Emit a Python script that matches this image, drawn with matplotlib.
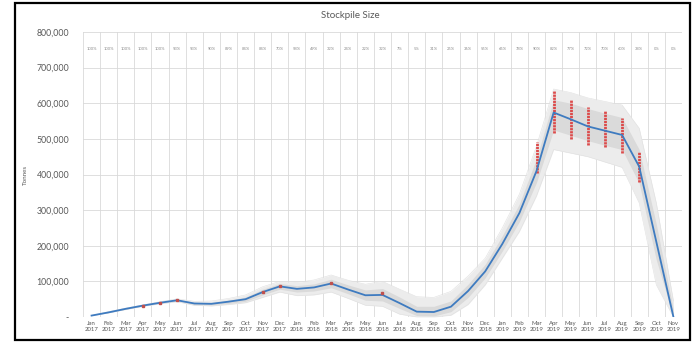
import matplotlib
matplotlib.use('Agg')
import matplotlib.pyplot as plt
from matplotlib.patches import Rectangle

plt.rcParams['font.family'] = ['Lato', 'DejaVu Sans']

months = ['Jan', 'Feb', 'Mar', 'Apr', 'May', 'Jun', 'Jul', 'Aug', 'Sep', 'Oct', 'Nov', 'Dec',
          'Jan', 'Feb', 'Mar', 'Apr', 'May', 'Jun', 'Jul', 'Aug', 'Sep', 'Oct', 'Nov', 'Dec',
          'Jan', 'Feb', 'Mar', 'Apr', 'May', 'Jun', 'Jul', 'Aug', 'Sep', 'Oct', 'Nov']
years = ['2017'] * 12 + ['2018'] * 12 + ['2019'] * 11

# share of simulations still holding stock each month
pct_labels = ['100%', '100%', '100%', '100%', '100%', '93%', '93%', '90%', '89%', '84%', '84%', '70%',
              '58%', '49%', '32%', '24%', '22%', '32%', '7%', '5%', '31%', '25%', '36%', '55%',
              '65%', '78%', '90%', '82%', '77%', '72%', '70%', '60%', '38%', '0%', '0%']

# mean stockpile (tonnes)
mean_size = [4000, 13000, 23000, 32000, 40000, 47000, 38000, 37000, 43000, 50000, 70000, 86000,
             79000, 83000, 94000, 77000, 61000, 62000, 39000, 15000, 14000, 29000, 73000, 128000,
             205000, 292000, 410000, 574000, 555000, 535000, 523000, 511000, 422000, 211000, 0]

# spread of the simulation runs (outer = all runs, inner = bulk of runs)
outer_lo = [4000, 12000, 21000, 30000, 37000, 43000, 33000, 31000, 35000, 40000, 55000, 70000,
            60000, 62000, 70000, 52000, 33000, 30000, 8000, 0, 0, 5000, 35000, 90000,
            165000, 240000, 340000, 470000, 460000, 450000, 435000, 420000, 320000, 90000, 0]
outer_hi = [4000, 15000, 25000, 34000, 43000, 51000, 44000, 45000, 52000, 62000, 85000, 100000,
            97000, 104000, 118000, 103000, 92000, 100000, 78000, 57000, 55000, 72000, 115000, 165000,
            250000, 345000, 480000, 640000, 630000, 615000, 605000, 595000, 530000, 320000, 45000]
inner_lo = [4000, 12500, 22000, 31000, 38500, 45000, 35000, 34000, 38000, 44000, 62000, 78000,
            70000, 73000, 82000, 65000, 47000, 45000, 24000, 4000, 3000, 15000, 55000, 110000,
            185000, 268000, 378000, 525000, 510000, 495000, 482000, 470000, 375000, 160000, 0]
inner_hi = [4000, 14000, 24000, 33000, 41500, 49000, 41000, 40000, 47000, 56000, 78000, 94000,
            88000, 93000, 106000, 90000, 76000, 80000, 56000, 30000, 30000, 45000, 92000, 148000,
            228000, 318000, 445000, 610000, 600000, 585000, 572000, 560000, 470000, 260000, 20000]

# runs flagged in red: single values and ranges
red_dot_idx = [3, 4, 5, 10, 11, 14, 17]
red_dot_val = [32000, 40000, 47000, 70000, 88000, 96000, 67000]
red_bar_idx = [26, 27, 28, 29, 30, 31, 32]
red_bar_lo = [404000, 517000, 500000, 483000, 478000, 461000, 380000]
red_bar_hi = [492000, 633000, 610000, 590000, 577000, 559000, 464000]

x = list(range(len(months)))

fig = plt.figure(figsize=(6.94, 3.43), dpi=100)
ax = fig.add_axes([0.1196, 0.0758, 0.8631, 0.8309])

ax.fill_between(x, outer_lo, outer_hi, color='#ececec', lw=0, zorder=1)
ax.fill_between(x, inner_lo, inner_hi, color='#dadada', lw=0, zorder=2)
ax.plot(x, outer_lo, color='#e0e0e0', lw=0.4, zorder=2)
ax.plot(x, outer_hi, color='#e0e0e0', lw=0.4, zorder=2)

ax.vlines(red_bar_idx, red_bar_lo, red_bar_hi, color='#dc4a4a', lw=2.0,
          linestyles=(0, (0.8, 0.3)), zorder=3)
ax.plot(red_dot_idx, red_dot_val, 's', color='#c0504d', ms=2, zorder=5)

ax.plot(x, mean_size, '-', color='#3e7bc0', lw=1.3, zorder=4)

for i, p in enumerate(pct_labels):
    ax.text(i, 753000, p, ha='center', va='center', fontsize=3, color='#8c8c8c')

ax.set_xlim(-0.5, len(months) - 0.5)
ax.set_ylim(0, 800000)
ax.set_yticks(range(0, 800001, 100000))
ax.set_yticklabels(['-' if v == 0 else f'{v:,}' for v in range(0, 800001, 100000)])
ax.set_xticks(x)
ax.set_xticklabels([f'{m}\n{y}' for m, y in zip(months, years)], linespacing=1.3)
ax.tick_params(axis='x', length=0, labelsize=4.3, colors='#595959', pad=3)
ax.tick_params(axis='y', length=0, labelsize=6.3, colors='#595959', pad=10)

# grid: horizontal at each tick, vertical between categories
for v in range(0, 800001, 100000):
    ax.axhline(v, color='#d9d9d9', lw=0.6, zorder=0)
for b in range(len(months) + 1):
    ax.axvline(b - 0.5, color='#d9d9d9', lw=0.6, zorder=0)
for s in ax.spines.values():
    s.set_visible(False)

ax.set_ylabel('Tonnes', fontsize=4.5, color='#595959', labelpad=6)
fig.text(350 / 694, 1 - 15 / 343, 'Stockpile Size', ha='center', va='center',
         fontsize=7, color='#595959')

fig.patches.append(Rectangle((15 / 694, 3 / 343), 675 / 694, 337 / 343, transform=fig.transFigure,
                             fill=False, edgecolor='black', lw=1.6))

fig.savefig('out.png', dpi=100)
